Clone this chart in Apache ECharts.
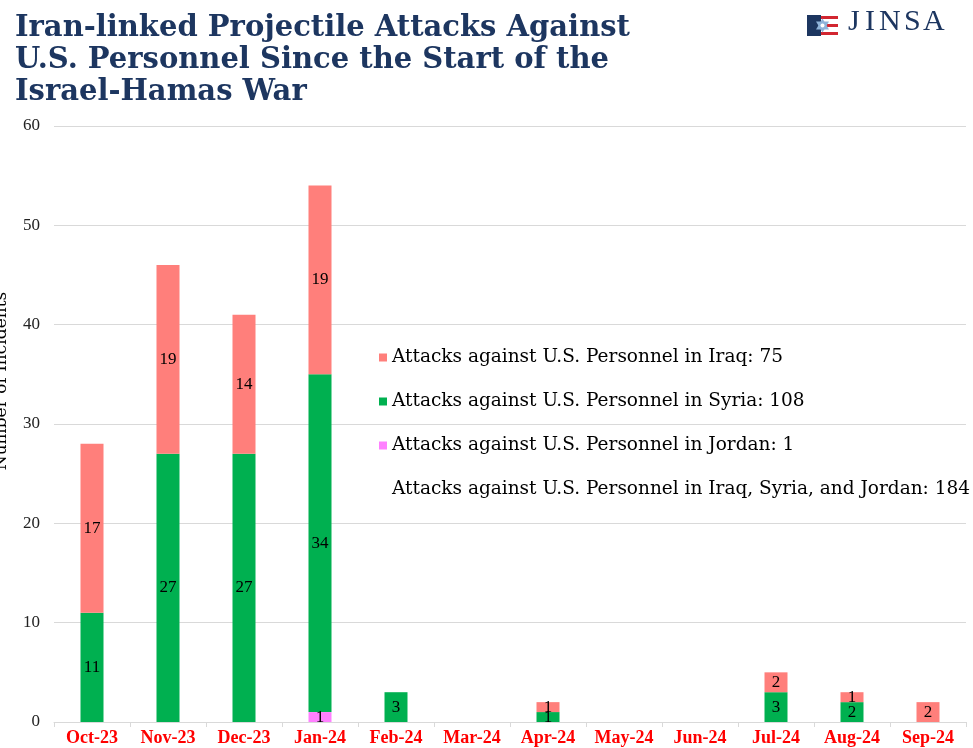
<!DOCTYPE html>
<html>
<head>
<meta charset="utf-8">
<script src="https://cdn.jsdelivr.net/npm/echarts@6/dist/echarts.min.js"></script>
<style>
  html, body { margin: 0; padding: 0; background: #fff; }
  #chart { width: 973px; height: 748px; }
</style>
</head>
<body>
<div id="chart"></div>
<script>
// months on the x axis
const months = ['Oct-23', 'Nov-23', 'Dec-23', 'Jan-24', 'Feb-24', 'Mar-24', 'Apr-24', 'May-24', 'Jun-24', 'Jul-24', 'Aug-24', 'Sep-24']

// attacks per month, by country
const jordan = [0, 0, 0, 1, 0, 0, 0, 0, 0, 0, 0, 0]
const syria = [11, 27, 27, 34, 3, 0, 1, 0, 0, 3, 2, 0]
const iraq = [17, 19, 14, 19, 0, 0, 1, 0, 0, 2, 1, 2]

const yTicks = [0, 10, 20, 30, 40, 50, 60]

const sum = arr => arr.reduce((a, b) => a + b, 0)
const serif = '"Liberation Serif", "DejaVu Serif", serif'
const wideSerif = '"DejaVu Serif", serif'
const navy = '#1d3660'

const iraqName = 'Attacks against U.S. Personnel in Iraq: ' + sum(iraq)
const syriaName = 'Attacks against U.S. Personnel in Syria: ' + sum(syria)
const jordanName = 'Attacks against U.S. Personnel in Jordan: ' + sum(jordan)
const totalName = 'Attacks against U.S. Personnel in Iraq, Syria, and Jordan: ' + (sum(iraq) + sum(syria) + sum(jordan))

const barLabel = {
  show: true,
  position: 'inside',
  color: '#000',
  fontFamily: serif,
  fontSize: 17,
  formatter: p => (p.value ? p.value : '')
}

// logo letters, spaced out like the JINSA wordmark
const logoLetters = ['J', 'I', 'N', 'S', 'A']
const logoX = [848, 865, 879, 904, 923]

const chart = echarts.init(document.getElementById('chart'))

chart.setOption({
  animation: false,
  title: {
    text: 'Iran-linked Projectile Attacks Against\nU.S. Personnel Since the Start of the\nIsrael-Hamas War',
    left: 10,
    top: 7,
    textStyle: {
      fontFamily: wideSerif,
      fontSize: 29,
      fontWeight: 'bold',
      lineHeight: 32,
      color: navy
    }
  },
  legend: {
    orient: 'vertical',
    left: 374,
    top: 343,
    itemWidth: 8,
    itemHeight: 8,
    itemGap: 25,
    itemTextGap: 6,
    icon: 'rect',
    textStyle: { fontFamily: wideSerif, fontSize: 18.5, lineHeight: 19, color: '#000' },
    data: [iraqName, syriaName, jordanName, totalName]
  },
  grid: { left: 54, right: 7, top: 126, bottom: 26 },
  xAxis: {
    type: 'category',
    data: months,
    axisLine: { lineStyle: { color: '#d9d9d9' } },
    axisTick: { show: true, lineStyle: { color: '#d9d9d9' } },
    axisLabel: {
      interval: 0,
      hideOverlap: false,
      color: '#ff0000',
      fontFamily: serif,
      fontWeight: 'bold',
      fontSize: 18,
      margin: 7
    }
  },
  yAxis: {
    type: 'value',
    min: yTicks[0],
    max: yTicks[yTicks.length - 1],
    interval: 10,
    axisLine: { show: false },
    axisTick: { show: false },
    splitLine: { lineStyle: { color: '#d9d9d9' } },
    axisLabel: { color: '#222', fontFamily: serif, fontSize: 17, margin: 14 }
  },
  graphic: [
    {
      type: 'text',
      x: 2,
      y: 381,
      rotation: Math.PI / 2,
      style: {
        text: 'Number of Incidents',
        fontFamily: wideSerif,
        fontSize: 17,
        fill: '#000',
        align: 'center',
        verticalAlign: 'middle'
      }
    },
    // JINSA logo flag
    {
      type: 'group',
      left: 807,
      top: 15,
      children: [
        { type: 'rect', shape: { x: 0, y: 0, width: 31, height: 21 }, style: { fill: '#fff' } },
        { type: 'rect', shape: { x: 0, y: 0, width: 14, height: 21 }, style: { fill: '#1d3660' } },
        { type: 'rect', shape: { x: 14, y: 1, width: 17, height: 3 }, style: { fill: '#d22630' } },
        { type: 'rect', shape: { x: 14, y: 9, width: 17, height: 3 }, style: { fill: '#d22630' } },
        { type: 'rect', shape: { x: 14, y: 17, width: 17, height: 3 }, style: { fill: '#d22630' } },
        {
          type: 'polygon',
          shape: { points: [[9, 6.5], [22, 6.5], [15.5, 17.5]] },
          style: { fill: '#8fb3d9' }
        },
        {
          type: 'polygon',
          shape: { points: [[9, 14.5], [22, 14.5], [15.5, 3.5]] },
          style: { fill: '#8fb3d9' }
        },
        { type: 'circle', shape: { cx: 15.5, cy: 10.5, r: 2 }, style: { fill: '#fff' } }
      ]
    }
  ].concat(logoLetters.map((ch, i) => ({
    type: 'text',
    x: logoX[i],
    y: 37,
    style: {
      text: ch,
      fontFamily: serif,
      fontSize: 30,
      fill: navy,
      verticalAlign: 'bottom'
    }
  }))),
  series: [
    {
      name: jordanName,
      type: 'bar',
      stack: 'total',
      barWidth: 23,
      data: jordan,
      itemStyle: { color: '#ff80ff' },
      label: barLabel
    },
    {
      name: syriaName,
      type: 'bar',
      stack: 'total',
      data: syria,
      itemStyle: { color: '#00b050' },
      label: barLabel
    },
    {
      name: iraqName,
      type: 'bar',
      stack: 'total',
      data: iraq,
      itemStyle: { color: '#ff7f7b' },
      label: barLabel
    },
    {
      name: totalName,
      type: 'bar',
      stack: 'total',
      data: [],
      itemStyle: { color: 'rgba(0,0,0,0)' }
    }
  ]
})
</script>
</body>
</html>
